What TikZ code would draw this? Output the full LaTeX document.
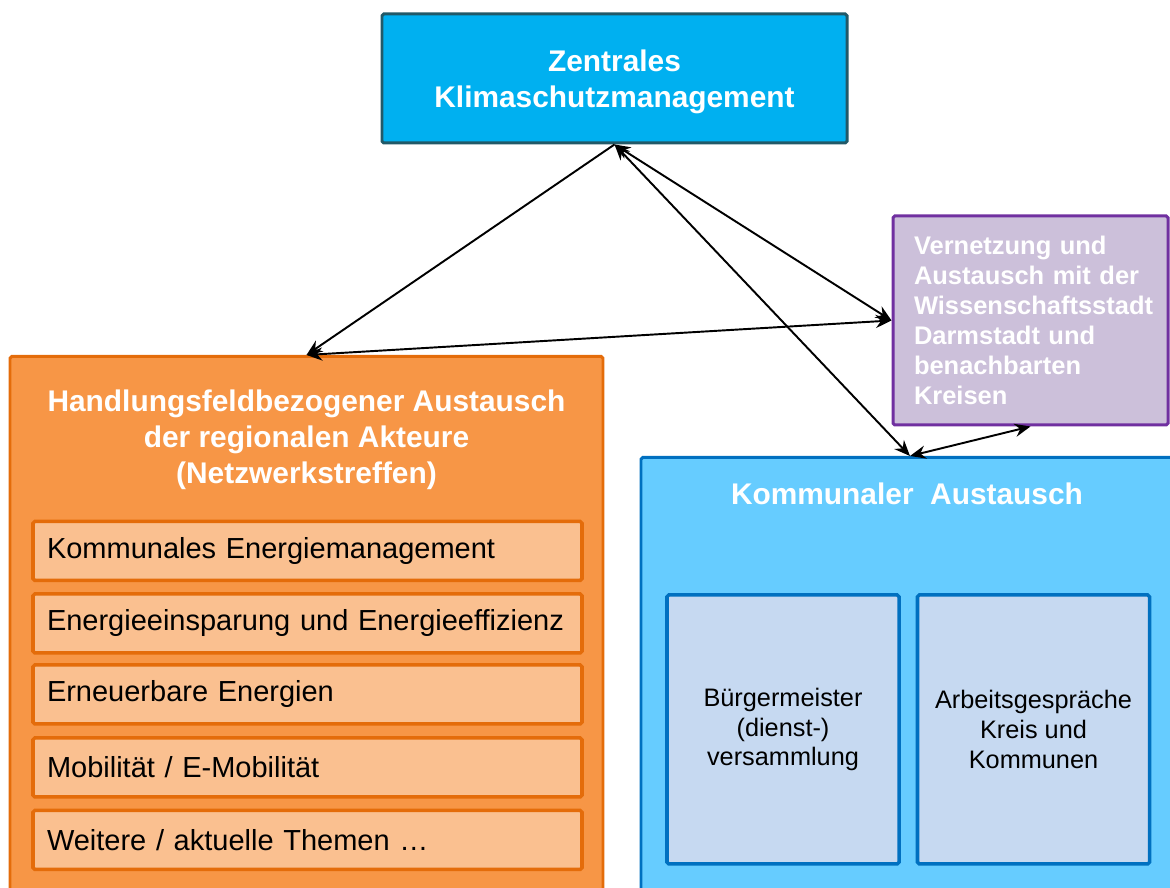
\documentclass[tikz,border=0pt]{standalone}
\usepackage{fontspec}
\setmainfont{Liberation Sans}
\usepackage{tikz}
\usetikzlibrary{shapes,arrows,arrows.meta,positioning,fit,calc}
\usepackage{xcolor}

\definecolor{zkmfill}{HTML}{00B0F0}
\definecolor{zkmline}{HTML}{215968}
\definecolor{vnfill}{HTML}{CCC0DA}
\definecolor{vnline}{HTML}{7030A0}
\definecolor{hafill}{HTML}{F79646}
\definecolor{haline}{HTML}{E46C0A}
\definecolor{itfill}{HTML}{FAC090}
\definecolor{kafill}{HTML}{66CCFF}
\definecolor{kaline}{HTML}{0070C0}
\definecolor{gsfill}{HTML}{C6D9F1}

\begin{document}
\begin{tikzpicture}[
  >={Stealth[length=9pt,width=7.5pt,inset=3pt]},
  bigbox/.style={rectangle, rounded corners=1pt, line width=1.7pt},
  title/.style={text=white, align=center,
                font=\fontsize{17}{20.5}\selectfont\bfseries},
  topic/.style={draw=haline, fill=itfill, rectangle, rounded corners=1pt,
                line width=2pt, minimum width=10.98cm, minimum height=1.18cm,
                text width=10.42cm, inner xsep=0.28cm, align=left,
                font=\fontsize{16.5}{20}\selectfont},
  talk/.style={draw=kaline, fill=gsfill, rectangle, rounded corners=1pt,
               line width=2pt, minimum width=4.64cm, minimum height=5.38cm,
               align=center, font=\fontsize{14.4}{17}\selectfont},
  link/.style={<->, line width=1.1pt}
]
\useasboundingbox (0,0) rectangle (23.4,17.76);

% Zentrales Klimaschutzmanagement
\node[bigbox, draw=zkmline, fill=zkmfill, minimum width=9.3cm, minimum height=2.58cm]
      (ZK) at (12.29,16.19) {};
\node[title] (ZKt) at (12.29,16.12) {Zentrales\\Klimaschutzmanagement};

% Vernetzung
\node[bigbox, draw=vnline, fill=vnfill, minimum width=5.5cm, minimum height=4.18cm,
      text width=4.66cm, inner xsep=0.42cm, align=left, text=white,
      font=\fontsize{14.5}{17}\selectfont\bfseries] (VN) at (20.61,11.35)
      {Vernetzung und\\Austausch mit der\\Wissenschaftsstadt\\Darmstadt und\\benachbarten\\Kreisen};

% Handlungsfeldbezogener Austausch
\node[bigbox, draw=haline, fill=hafill, minimum width=11.86cm, minimum height=11cm,
      anchor=north] (HA) at (6.13,10.66) {};
\node[title] (HAt) at (6.13,8.97)
      {Handlungsfeldbezogener Austausch\\der regionalen Akteure\\(Netzwerkstreffen)};
\node[topic] (T1) at (6.15,6.74) {Kommunales Energiemanagement};
\node[topic] (T2) at (6.15,5.29) {Energieeinsparung und Energieeffizienz};
\node[topic] (T3) at (6.15,3.87) {Erneuerbare Energien};
\node[topic] (T4) at (6.15,2.41) {Mobilität / E-Mobilität};
\node[topic] (T5) at (6.15,0.96) {Weitere / aktuelle Themen \dots};

% Kommunaler Austausch
\node[bigbox, draw=kaline, fill=kafill, minimum width=10.76cm, minimum height=10cm,
      anchor=north] (KA) at (18.2,8.64) {};
\node[title] (KAt) at (18.14,7.88) {Kommunaler\ \ Austausch};
\node[talk] (BM) at (15.66,3.17) {Bürgermeister\\(dienst-)\\versammlung};
\node[talk] (AK) at (20.67,3.17) {Arbeitsgespräche\\Kreis und\\Kommunen};

% Relationships
\draw[->, line width=1.1pt] (ZK.south) -- (HA.north);
\draw[link] (ZK.south) -- (VN.west);
\draw[link] (ZK.south) -- (KA.north);
\draw[link] (HA.north) -- (VN.west);
\draw[link] (VN.south) -- (KA.north);
\end{tikzpicture}
\end{document}
